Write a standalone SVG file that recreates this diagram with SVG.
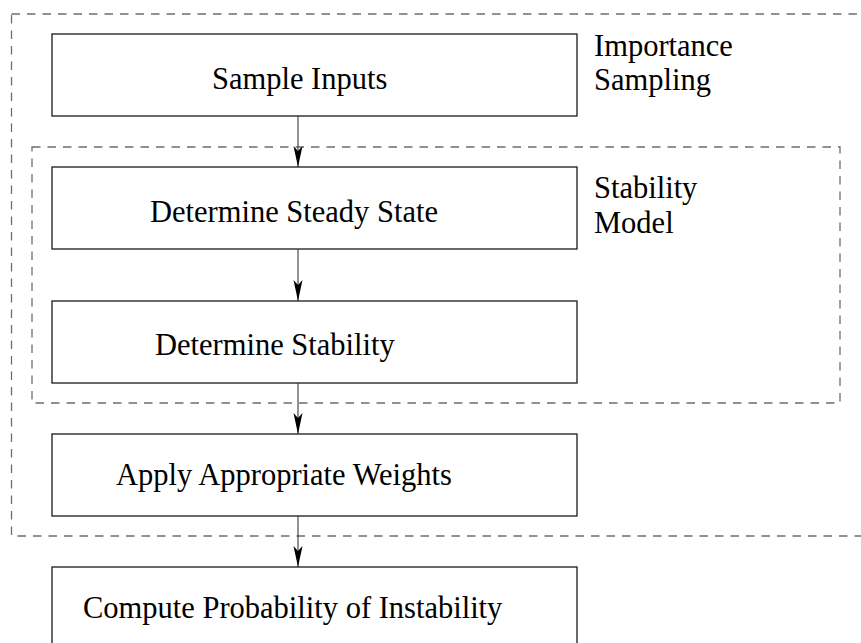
<svg xmlns="http://www.w3.org/2000/svg" width="861" height="643" viewBox="0 0 861 643">
  <style>
    .box { fill: #ffffff; stroke: #1a1a1a; stroke-width: 1.3; }
    .frame { fill: none; stroke: #6e6e6e; stroke-width: 1.3; stroke-dasharray: 8.5 7; }
    .lbl { font-family: "Liberation Serif", "Times New Roman", serif; font-size: 30.5px; fill: #000000; }
    .wire { stroke: #3a3a3a; stroke-width: 1.1; fill: none; }
  </style>
  <defs>
    <!-- indented closed arrowhead, drawn pointing along +x -->
    <marker id="head" markerUnits="userSpaceOnUse" markerWidth="24" markerHeight="12" refX="22" refY="6" orient="auto" viewBox="0 0 24 12">
      <polygon points="22,6 1,1.5 6,6 1,10.5" fill="#000000"/>
    </marker>
  </defs>

  <rect width="861" height="643" fill="#ffffff"/>

  <!-- grouping frames -->
  <g id="importance-sampling">
    <rect class="frame" x="11.5" y="14" width="870" height="522"/>
    <text class="lbl" x="594" y="56">Importance</text>
    <text class="lbl" x="594" y="90">Sampling</text>
  </g>
  <g id="stability-model">
    <rect class="frame" x="32" y="147" width="808" height="256"/>
    <text class="lbl" x="594" y="198">Stability</text>
    <text class="lbl" x="594" y="233">Model</text>
  </g>

  <!-- process steps -->
  <g id="sample-inputs">
    <rect class="box" x="52" y="34" width="525" height="82"/>
    <text class="lbl" x="212" y="89">Sample Inputs</text>
  </g>
  <g id="steady-state">
    <rect class="box" x="52" y="167" width="525" height="82"/>
    <text class="lbl" x="150" y="222">Determine Steady State</text>
  </g>
  <g id="stability">
    <rect class="box" x="52" y="301" width="525" height="82"/>
    <text class="lbl" x="155" y="355">Determine Stability</text>
  </g>
  <g id="weights">
    <rect class="box" x="52" y="434" width="525" height="82"/>
    <text class="lbl" x="116" y="485">Apply Appropriate Weights</text>
  </g>
  <g id="probability">
    <rect class="box" x="52" y="567" width="525" height="90"/>
    <text class="lbl" x="83" y="618">Compute Probability of Instability</text>
  </g>

  <!-- connectors -->
  <g id="connectors">
    <line class="wire" x1="298" y1="116" x2="298" y2="167" marker-end="url(#head)"/>
    <line class="wire" x1="298" y1="249" x2="298" y2="301" marker-end="url(#head)"/>
    <line class="wire" x1="298" y1="383" x2="298" y2="434" marker-end="url(#head)"/>
    <line class="wire" x1="298" y1="516" x2="298" y2="567" marker-end="url(#head)"/>
  </g>
</svg>
